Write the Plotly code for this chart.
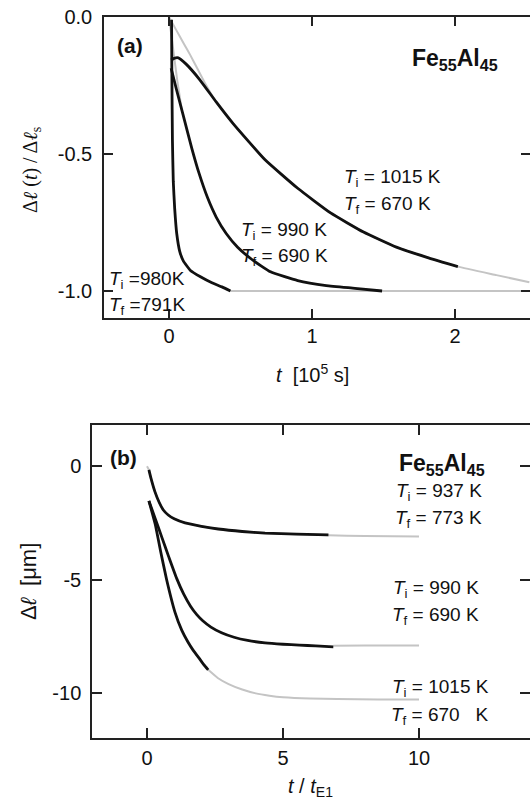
import plotly.graph_objects as go

# ---------------- data ----------------
# Panel (a): normalized length change vs time [1e5 s]
a980_t = [0.018, 0.020, 0.024, 0.030, 0.040, 0.054, 0.075, 0.10, 0.15, 0.22, 0.30, 0.37, 0.43]
a980_y = [-0.01, -0.20, -0.45, -0.60, -0.70, -0.79, -0.855, -0.89, -0.925, -0.948, -0.97, -0.985, -1.0]

a990_t = [0.015, 0.05, 0.10, 0.16, 0.21, 0.27, 0.33, 0.40, 0.48, 0.58, 0.71, 0.90, 1.10, 1.30, 1.49]
a990_y = [-0.187, -0.26, -0.36, -0.48, -0.57, -0.66, -0.73, -0.79, -0.84, -0.885, -0.93, -0.962, -0.98, -0.99, -1.0]

a1015_t = [0.015, 0.04, 0.065, 0.12, 0.217, 0.33, 0.45, 0.67, 0.90, 1.13, 1.36, 1.59, 1.82, 2.02]
a1015_y = [-0.157, -0.150, -0.149, -0.172, -0.23, -0.31, -0.39, -0.52, -0.625, -0.715, -0.785, -0.84, -0.88, -0.911]

a1015_fit_t = [0.0, 0.05, 0.10, 0.15, 0.20, 0.25, 0.33, 0.45, 0.67, 0.90, 1.13, 1.36, 1.59, 1.82, 2.02, 2.29, 2.52]
a1015_fit_y = [0.0, -0.047, -0.094, -0.14, -0.19, -0.24, -0.31, -0.39, -0.52, -0.625, -0.715, -0.785, -0.84, -0.88, -0.911, -0.942, -0.968]

a990_fit_t = [0.0, 0.03, 0.06, 0.09]
a990_fit_y = [0.0, -0.12, -0.24, -0.34]

a_sat_t = [0.43, 2.52]
a_sat_y = [-1.0, -1.0]

# Panel (b): length change [um] vs t / t_E1
b937_t = [0.07, 0.15, 0.29, 0.45, 0.60, 0.78, 1.0, 1.4, 2.0, 2.62, 3.5, 4.34, 5.5, 6.67]
b937_y = [-0.16, -0.55, -1.12, -1.60, -1.93, -2.15, -2.32, -2.50, -2.65, -2.77, -2.88, -2.95, -3.00, -3.03]
b937_fit_t = [0.0, 0.07, 0.15, 0.29, 0.45, 0.60, 0.78, 1.0, 1.4, 2.0, 2.62, 3.5, 4.34, 5.5, 6.67, 8.0, 10.0]
b937_fit_y = [0.0, -0.16, -0.55, -1.12, -1.60, -1.93, -2.15, -2.32, -2.50, -2.65, -2.77, -2.88, -2.95, -3.00, -3.05, -3.08, -3.10]

b990_t = [0.07, 0.30, 0.55, 0.80, 1.09, 1.35, 1.60, 1.83, 2.05, 2.35, 2.74, 3.2, 3.7, 4.34, 5.0, 5.6, 6.2, 6.85]
b990_y = [-1.53, -2.30, -3.15, -4.0, -4.95, -5.65, -6.18, -6.55, -6.82, -7.10, -7.35, -7.55, -7.69, -7.80, -7.86, -7.90, -7.93, -7.98]
b990_fit_t = [6.85, 8.0, 10.0]
b990_fit_y = [-7.93, -7.92, -7.92]

b1015_t = [0.07, 0.30, 0.50, 0.72, 1.03, 1.28, 1.50, 1.70, 1.90, 2.08, 2.25]
b1015_y = [-1.53, -2.55, -3.75, -5.0, -6.45, -7.25, -7.75, -8.13, -8.45, -8.75, -8.99]
b1015_fit_t = [2.25, 2.60, 3.0, 3.5, 4.0, 4.5, 5.0, 6.0, 7.0, 8.5, 10.0]
b1015_fit_y = [-8.99, -9.35, -9.62, -9.86, -10.03, -10.13, -10.20, -10.26, -10.28, -10.30, -10.30]

# tick labels
a_xticks = [0, 1, 2]
a_xticktext = ["0", "1", "2"]
a_yticks = [-1.0, -0.5, 0.0]
a_yticktext = ["-1.0", "-0.5", "0.0"]
b_xticks = [0, 5, 10]
b_xticktext = ["0", "5", "10"]
b_yticks = [-10, -5, 0]
b_yticktext = ["-10", "-5", "0"]

# ---------------- figure ----------------
W, H = 530, 803
def px(x):
    return x / W
def py(y):
    return 1 - y / H

SANS = "Liberation Sans, Arial, sans-serif"
SERIF = "Liberation Serif, Times New Roman, serif"
INK = "#111111"
GRAY = "#c4c4c4"

fig = go.Figure()

def add(t, y, xa, ya, color, width):
    fig.add_trace(go.Scatter(x=t, y=y, mode="lines", xaxis=xa, yaxis=ya,
                             line=dict(color=color, width=width, shape="spline", smoothing=0.4),
                             hoverinfo="skip", showlegend=False))

# panel (a)
add(a1015_fit_t, a1015_fit_y, "x", "y", GRAY, 2)
add(a990_fit_t, a990_fit_y, "x", "y", GRAY, 2)
add(a_sat_t, a_sat_y, "x", "y", GRAY, 2)
add(a980_t, a980_y, "x", "y", INK, 2.8)
add(a990_t, a990_y, "x", "y", INK, 2.8)
add(a1015_t, a1015_y, "x", "y", INK, 2.8)

# panel (b)
add(b937_fit_t, b937_fit_y, "x2", "y2", GRAY, 2)
add(b990_fit_t, b990_fit_y, "x2", "y2", GRAY, 2)
add(b1015_fit_t, b1015_fit_y, "x2", "y2", GRAY, 2)
add(b937_t, b937_y, "x2", "y2", INK, 2.8)
add(b990_t, b990_y, "x2", "y2", INK, 2.8)
add(b1015_t, b1015_y, "x2", "y2", INK, 2.8)

axis_common = dict(showline=True, linecolor="#222", linewidth=1.5, mirror="ticks",
                   ticks="inside", tickcolor="#222", tickwidth=1.5,
                   showgrid=False, zeroline=False, automargin=False,
                   tickfont=dict(family=SANS, size=20, color=INK))

fig.update_layout(
    width=W, height=H,
    margin=dict(l=0, r=0, t=0, b=0, pad=0, autoexpand=False),
    paper_bgcolor="white", plot_bgcolor="white",
    xaxis=dict(domain=[px(104), 1.0], range=[-0.4545, 2.5245],
               tickvals=a_xticks, ticktext=a_xticktext, ticklen=9,
               ticklabelstandoff=-1, anchor="y", **axis_common),
    yaxis=dict(domain=[py(318), py(17)], range=[-1.0985, 0.0],
               tickvals=a_yticks, ticktext=a_yticktext, ticklen=9,
               ticklabelstandoff=6, anchor="x", **axis_common),
    xaxis2=dict(domain=[px(92), 1.0], range=[-2.022, 14.08],
                tickvals=b_xticks, ticktext=b_xticktext, ticklen=10,
                ticklabelstandoff=1, anchor="y2", **axis_common),
    yaxis2=dict(domain=[py(738), py(425)], range=[-12.0, 1.823],
                tickvals=b_yticks, ticktext=b_yticktext, ticklen=10,
                ticklabelstandoff=5, anchor="x2", **axis_common),
)

def note(text, x, y, size=19, xanchor="left", family=SANS, angle=0):
    fig.add_annotation(text=text, x=px(x), y=py(y), xref="paper", yref="paper",
                       xanchor=xanchor, yanchor="middle", showarrow=False,
                       textangle=angle, font=dict(family=family, size=size, color=INK))

# panel (a) texts
note("<b>(a)</b>", 115, 45, size=21)
note("<b>Fe<sub>55</sub>Al<sub>45</sub></b>", 410, 60, size=23)
note("<i>T</i><sub>i</sub> = 1015 K", 342, 178)
note("<i>T</i><sub>f</sub> = 670 K", 342, 205)
note("<i>T</i><sub>i</sub> = 990 K", 239, 231)
note("<i>T</i><sub>f</sub> = 690 K", 239, 257)
note("<i>T</i><sub>i</sub> =980K", 107, 280)
note("<i>T</i><sub>f</sub> =791K", 107, 306)
note("<i>t</i>  [10<sup>5</sup> s]", 312, 373, size=20, xanchor="center")
note("Δ<i>ℓ</i> (<i>t</i>) / Δ<i>ℓ</i><sub>s</sub>", 32, 170, size=20, xanchor="center", family=SERIF, angle=-90)

# panel (b) texts
note("<b>(b)</b>", 108, 458, size=21)
note("<b>Fe<sub>55</sub>Al<sub>45</sub></b>", 487, 464, size=23, xanchor="right")
note("<i>T</i><sub>i</sub> = 937 K", 484, 492, xanchor="right")
note("<i>T</i><sub>f</sub> = 773 K", 484, 519, xanchor="right")
note("<i>T</i><sub>i</sub> = 990 K", 481, 589, xanchor="right")
note("<i>T</i><sub>f</sub> = 690 K", 481, 616, xanchor="right")
note("<i>T</i><sub>i</sub> = 1015 K", 491, 688, xanchor="right")
note("<i>T</i><sub>f</sub> = 670   K", 491, 716, xanchor="right")
note("<i>t</i> / <i>t</i><sub>E1</sub>", 310, 787, size=20, xanchor="center")
note("Δ<i>ℓ</i>  [μm]", 28, 582, size=22, xanchor="center", angle=-90)

fig.write_html("out.html", config={"displayModeBar": False},
               post_script="document.body.style.margin='0px';document.body.style.overflow='hidden';")
